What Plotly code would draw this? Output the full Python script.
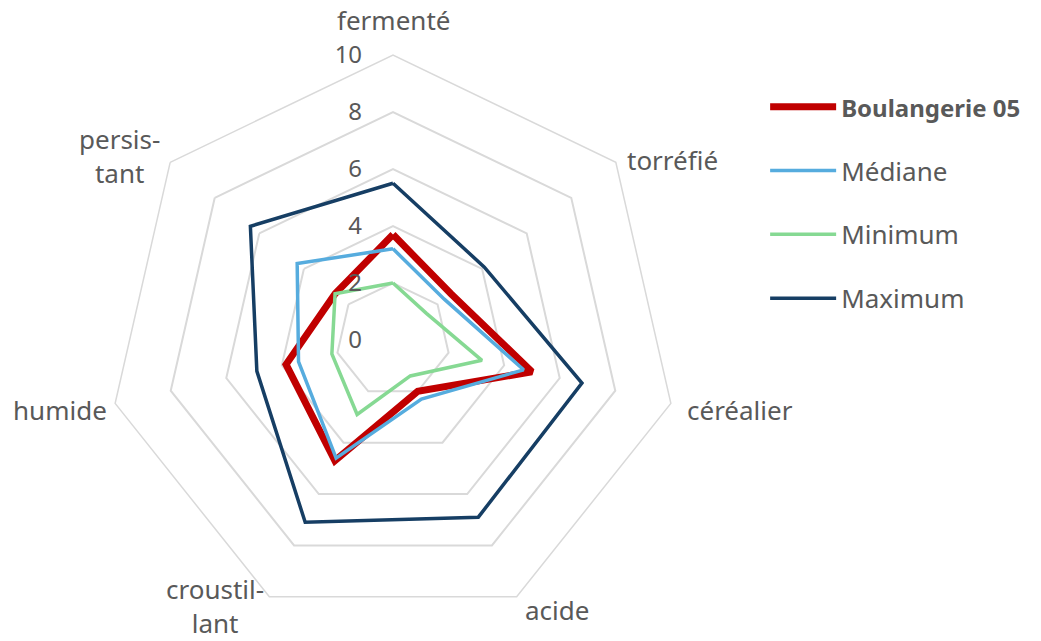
import plotly.graph_objects as go

categories = ["fermenté", "torréfié", "céréalier", "acide", "croustil-<br>lant", "humide", "persis-<br>tant"]

boulangerie = [3.7, 2.6, 5.0, 2.0, 4.7, 3.85, 2.6]
mediane = [3.2, 2.3, 4.7, 2.3, 4.6, 3.4, 4.3]
minimum = [2.0, 1.5, 3.2, 1.4, 2.9, 2.2, 2.6]
maximum = [5.5, 4.1, 6.8, 6.9, 7.1, 4.9, 6.4]

radial_ticks = [0, 2, 4, 6, 8, 10]

series = [
    ('<span style="font-size:24px"><b>Boulangerie 05</b></span>', boulangerie, "#C00000", 7),
    ("Médiane", mediane, "#56ACDE", 3.5),
    ("Minimum", minimum, "#86D993", 3.5),
    ("Maximum", maximum, "#163E64", 3.5),
]

# pixel centres of the category labels (placement only)
label_pos = [(393, 20), (672, 160), (740, 410), (557, 610), (215, 606), (60, 410), (119, 156)]

fig = go.Figure()
for i, (name, vals, color, w) in enumerate(series):
    fig.add_trace(go.Scatterpolar(
        r=vals + vals[:1],
        theta=categories + categories[:1],
        mode="lines",
        name=name,
        legendgroup=f"g{i}",
        line=dict(color=color, width=w),
    ))

W, H = 1041, 641
cx, cy, R = 393, 340, 285

for text, (px, py) in zip(categories, label_pos):
    fig.add_annotation(
        x=px / W, y=1 - py / H, xref="paper", yref="paper",
        text=text, showarrow=False, xanchor="center", yanchor="middle",
        align="center", font=dict(size=26, color="#595959"),
    )

fig.update_layout(
    width=W, height=H,
    margin=dict(l=0, r=0, t=0, b=0),
    paper_bgcolor="white",
    plot_bgcolor="white",
    font=dict(family="Noto Sans, Open Sans, sans-serif", size=26, color="#595959"),
    polar=dict(
        domain=dict(x=[(cx - R) / W, (cx + R) / W], y=[(H - cy - R) / H, (H - cy + R) / H]),
        gridshape="linear",
        bgcolor="white",
        radialaxis=dict(
            range=[0, 10],
            tickvals=radial_ticks,
            angle=90,
            tickangle=90,
            side="counterclockwise",
            showline=False,
            showgrid=True,
            gridcolor="#D9D9D9",
            gridwidth=1.5,
            ticks="outside",
            ticklen=22,
            tickcolor="rgba(0,0,0,0)",
            tickfont=dict(size=24, color="#595959"),
        ),
        angularaxis=dict(
            direction="clockwise",
            rotation=90,
            showgrid=False,
            showline=True,
            linecolor="#D9D9D9",
            linewidth=1.5,
            ticks="",
            showticklabels=False,
        ),
    ),
    legend=dict(
        x=0.735, y=0.870, xanchor="left", yanchor="top",
        font=dict(size=26, color="#595959"),
        tracegroupgap=27,
        itemwidth=66,
        bgcolor="rgba(0,0,0,0)",
    ),
    showlegend=True,
)

fig.write_html(
    "out.html",
    config={"displayModeBar": False},
    post_script="document.body.style.margin='0';document.body.style.overflow='hidden';",
)
